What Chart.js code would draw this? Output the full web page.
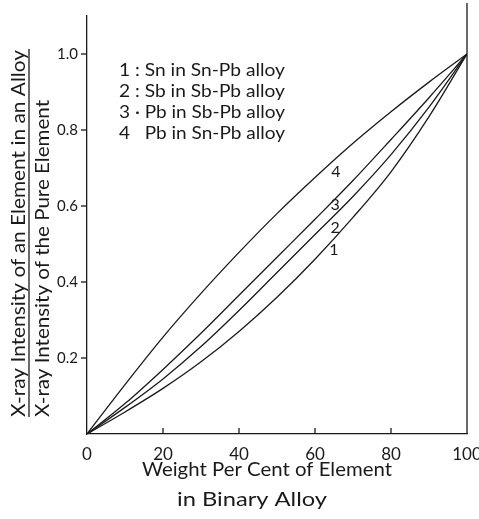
<!DOCTYPE html>
<html>
<head>
<meta charset="utf-8">
<script src="https://cdn.jsdelivr.net/npm/chart.js@4/dist/chart.umd.min.js"></script>
<style>
  html, body { margin: 0; padding: 0; background: #fff; }
  #wrap { width: 479px; height: 519px; }
</style>
</head>
<body>
<div id="wrap"><canvas id="chart" width="479" height="519"></canvas></div>
<script>
  // weight per cent of element
  const weightPct = [0, 10, 20, 30, 40, 50, 60, 70, 80, 90, 100];
  // relative X-ray intensity
  const snInSnPb = [0, 0.058, 0.12, 0.19, 0.27, 0.36, 0.46, 0.57, 0.69, 0.835, 1.0];
  const sbInSbPb = [0, 0.07, 0.145, 0.23, 0.325, 0.425, 0.525, 0.625, 0.735, 0.86, 1.0];
  const pbInSbPb = [0, 0.08, 0.17, 0.265, 0.365, 0.465, 0.565, 0.667, 0.775, 0.885, 1.0];
  const pbInSnPb = [0, 0.13, 0.255, 0.37, 0.478, 0.58, 0.675, 0.765, 0.848, 0.926, 1.0];

  const xTicks = [0, 20, 40, 60, 80, 100];
  const yTicks = [0.2, 0.4, 0.6, 0.8, 1.0];

  const legendLines = [
    '1 : Sn in Sn-Pb alloy',
    '2 : Sb in Sb-Pb alloy',
    '3 · Pb in Sb-Pb alloy',
    '4   Pb in Sn-Pb alloy'
  ];
  const curveNames = ['1', '2', '3', '4'];
  const curveLabelX = [65, 65.3, 65.3, 65.5];
  const curveLabelY = [0.485, 0.543, 0.603, 0.69];

  const ink = '#1a1a1a';
  const hand = '"Lato", "DejaVu Sans", sans-serif';

  const toPts = (vals) => vals.map((y, i) => ({ x: weightPct[i], y: y }));
  const series = [snInSnPb, sbInSbPb, pbInSbPb, pbInSnPb];

  // draws text left-aligned at x, stretched to the given width
  function fitText(c, t, x, y, w) {
    const m = c.measureText(t).width;
    c.save();
    c.translate(x, y);
    c.scale(w / m, 1);
    c.fillText(t, 0, 0);
    c.restore();
  }

  const decor = {
    id: 'decor',
    afterDraw(chart) {
      const c = chart.ctx;
      const sx = chart.scales.x, sy = chart.scales.y;
      const area = chart.chartArea;
      c.save();
      c.strokeStyle = ink;
      c.fillStyle = ink;
      c.lineWidth = 1.3;

      // right-hand line at 100 %
      const xr = sx.getPixelForValue(100);
      c.beginPath();
      c.moveTo(xr, area.top - 13);
      c.lineTo(xr, area.bottom);
      c.stroke();

      // x tick marks (pointing up)
      xTicks.forEach(v => {
        if (v === 0 || v === 100) return;
        const px = sx.getPixelForValue(v);
        c.beginPath();
        c.moveTo(px, area.bottom);
        c.lineTo(px, area.bottom - 6);
        c.stroke();
      });
      // y tick marks (pointing left)
      yTicks.forEach(v => {
        const py = sy.getPixelForValue(v);
        c.beginPath();
        c.moveTo(area.left, py);
        c.lineTo(area.left - 6, py);
        c.stroke();
      });

      // legend block
      c.font = '18px ' + hand;
      c.textAlign = 'left';
      c.textBaseline = 'middle';
      legendLines.forEach((t, i) => fitText(c, t, 119, 70 + i * 21, 166));

      // curve numbers
      c.font = '16px ' + hand;
      c.textAlign = 'center';
      curveNames.forEach((n, i) => {
        c.fillText(n, sx.getPixelForValue(curveLabelX[i]), sy.getPixelForValue(curveLabelY[i]));
      });

      // x axis title (two lines)
      c.textAlign = 'left';
      c.font = '19px ' + hand;
      fitText(c, 'Weight Per Cent of Element', 142, 470, 250);
      fitText(c, 'in Binary Alloy', 177, 500, 150);

      // y axis title as a fraction
      c.translate(29, 417);
      c.rotate(-Math.PI / 2);
      c.font = '19px ' + hand;
      c.textBaseline = 'alphabetic';
      fitText(c, 'X-ray Intensity of an Element in an Alloy', 0, -4, 367);
      c.textBaseline = 'top';
      fitText(c, 'X-ray Intensity of the Pure Element', 0, 4, 317);
      c.beginPath();
      c.moveTo(0, 0);
      c.lineTo(368, 0);
      c.stroke();
      c.restore();
    }
  };

  new Chart(document.getElementById('chart').getContext('2d'), {
    type: 'scatter',
    data: {
      datasets: series.map((vals, i) => ({
        label: curveNames[i],
        data: toPts(vals),
        showLine: true,
        borderColor: ink,
        borderWidth: 1.3,
        pointRadius: 0,
        cubicInterpolationMode: 'monotone',
        fill: false
      }))
    },
    options: {
      responsive: false,
      animation: false,
      layout: { padding: { top: 16, right: 12, left: 0, bottom: 0 } },
      plugins: { legend: { display: false }, tooltip: { enabled: false } },
      scales: {
        x: {
          type: 'linear',
          min: 0,
          max: 100,
          afterBuildTicks: (s) => { s.ticks = xTicks.map(v => ({ value: v })); },
          afterFit: (s) => { s.height = 85; s.paddingLeft = 0; s.paddingRight = 0; },
          grid: { display: false },
          border: { display: true, color: ink, width: 1.3 },
          ticks: {
            color: ink,
            font: { family: hand, size: 17 },
            padding: 2,
            maxRotation: 0,
            callback: (v) => String(v)
          }
        },
        y: {
          type: 'linear',
          min: 0,
          max: 1.1,
          afterBuildTicks: (s) => { s.ticks = yTicks.map(v => ({ value: v })); },
          afterFit: (s) => { s.width = 87; s.paddingTop = 0; s.paddingBottom = 0; },
          grid: { display: false },
          border: { display: true, color: ink, width: 1.3 },
          ticks: {
            color: ink,
            font: { family: hand, size: 15 },
            padding: 1,
            callback: (v) => v.toFixed(1)
          }
        }
      }
    },
    plugins: [decor]
  });
</script>
</body>
</html>
